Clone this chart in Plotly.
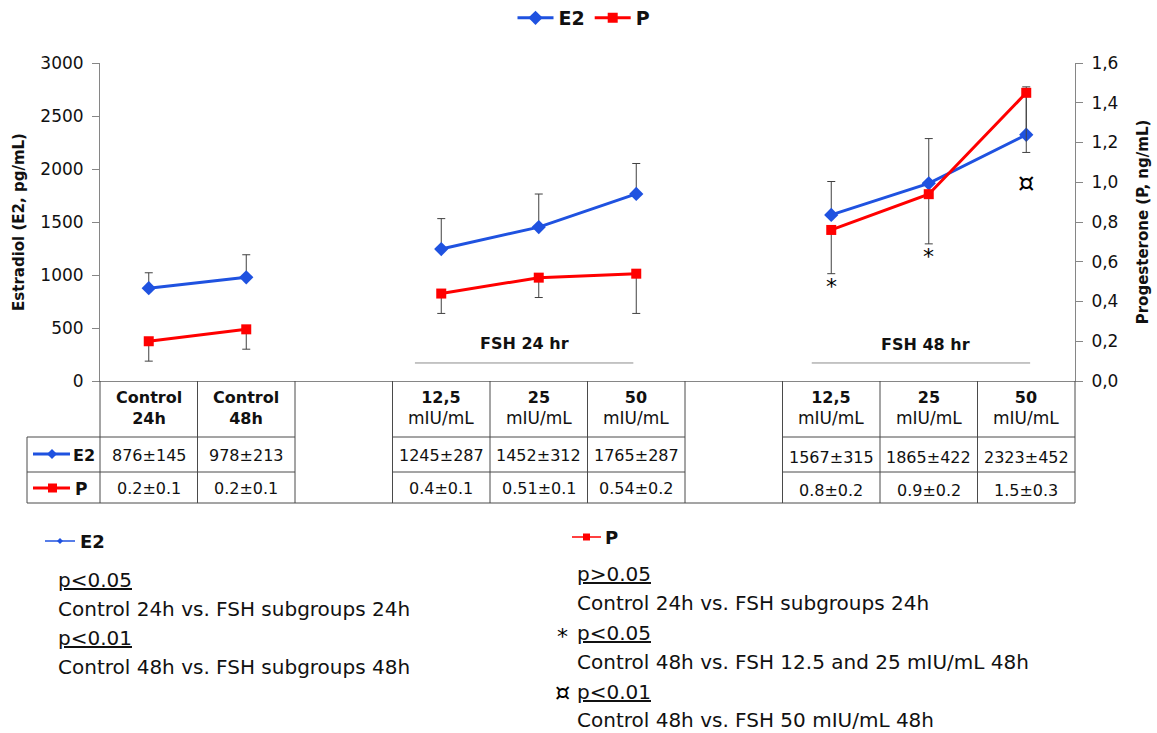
import plotly.graph_objects as go

# ---------------- data ----------------
slots = [0, 1, 3, 4, 5, 7, 8, 9]          # category slot positions (10 slots, 2 blank slots)
e2_values = [876, 978, 1245, 1452, 1765, 1567, 1865, 2323]
e2_err = [145, 213, 287, 312, 287, 315, 422, 452]
p_values = [0.20, 0.26, 0.44, 0.52, 0.54, 0.76, 0.94, 1.45]
p_err = [0.10, 0.10, 0.10, 0.10, 0.20, 0.22, 0.25, 0.30]

header_top = ["Control", "Control", "12,5", "25", "50", "12,5", "25", "50"]
header_bottom = ["24h", "48h", "mIU/mL", "mIU/mL", "mIU/mL", "mIU/mL", "mIU/mL", "mIU/mL"]
e2_table = ["876±145", "978±213", "1245±287", "1452±312", "1765±287", "1567±315", "1865±422", "2323±452"]
p_table = ["0.2±0.1", "0.2±0.1", "0.4±0.1", "0.51±0.1", "0.54±0.2", "0.8±0.2", "0.9±0.2", "1.5±0.3"]

left_ticks = [0, 500, 1000, 1500, 2000, 2500, 3000]
right_ticks = [0, 0.2, 0.4, 0.6, 0.8, 1.0, 1.2, 1.4, 1.6]
right_ticktext = ["0,0", "0,2", "0,4", "0,6", "0,8", "1,0", "1,2", "1,4", "1,6"]

sig_marks = [(7, 887, "*", 22), (8, 1170, "*", 22), (9, 1868, "¤", 26)]

BLUE = "#1F52E0"
RED = "#FF0000"
FONT = "DejaVu Sans"
W, H = 1157, 733
L, R, T, B = 100, 1075, 63, 381


def X(px):
    return (px - L) / (R - L)


def Y(py):
    return (B - py) / (B - T)


def with_gaps(xs, vals):
    """insert None between non-adjacent slots so lines break at blank slots"""
    ox, ov = [], []
    for i, (s, v) in enumerate(zip(xs, vals)):
        if i > 0 and s - xs[i - 1] > 1:
            ox.append(None)
            ov.append(None)
        ox.append(s)
        ov.append(v)
    return ox, ov


gx, e2_y = with_gaps(slots, e2_values)
_, e2_e = with_gaps(slots, e2_err)
_, p_y = with_gaps(slots, p_values)
_, p_e = with_gaps(slots, p_err)
zeros = [0 if v is not None else None for v in e2_y]

fig = go.Figure()
fig.add_trace(go.Scatter(
    x=gx, y=e2_y, name="<b>E2</b>", mode="lines+markers",
    line=dict(color=BLUE, width=3),
    marker=dict(symbol="diamond", size=11, color=BLUE),
    error_y=dict(type="data", symmetric=False, array=e2_e,
                 arrayminus=zeros, color="#404040", thickness=1, width=4),
))
fig.add_trace(go.Scatter(
    x=gx, y=p_y, name="<b>P</b>", mode="lines+markers", yaxis="y2",
    line=dict(color=RED, width=3),
    marker=dict(symbol="square", size=10, color=RED),
    error_y=dict(type="data", symmetric=False, array=zeros,
                 arrayminus=p_e, color="#404040", thickness=1, width=4),
))

shapes = []
ann = []
LC = "#4a4a4a"

# table vertical lines
for k in range(11):
    shapes.append(dict(type="line", xref="paper", yref="paper",
                       x0=k / 10, x1=k / 10, y0=Y(381), y1=Y(503),
                       line=dict(color=LC, width=1)))
# legend column
shapes.append(dict(type="line", xref="paper", yref="paper",
                   x0=X(27), x1=X(27), y0=Y(437), y1=Y(503), line=dict(color=LC, width=1)))
for yy in (437, 472):
    for a, b in ((X(27), 0.2), (0.3, 0.6), (0.7, 1.0)):
        shapes.append(dict(type="line", xref="paper", yref="paper",
                           x0=a, x1=b, y0=Y(yy), y1=Y(yy), line=dict(color=LC, width=1)))
shapes.append(dict(type="line", xref="paper", yref="paper",
                   x0=X(27), x1=1.0, y0=Y(503), y1=Y(503), line=dict(color=LC, width=1)))

# legend glyphs in table
shapes.append(dict(type="line", xref="paper", yref="paper", x0=X(33), x1=X(70),
                   y0=Y(454), y1=Y(454), line=dict(color=BLUE, width=3)))
shapes.append(dict(type="path", xref="paper", yref="paper",
                   path="M {a},{c} L {b},{d} L {e},{c} L {b},{f} Z".format(
                       a=X(47), b=X(52), c=Y(454), d=Y(449), e=X(57), f=Y(459)),
                   fillcolor=BLUE, line=dict(color=BLUE, width=0)))
shapes.append(dict(type="line", xref="paper", yref="paper", x0=X(33), x1=X(70),
                   y0=Y(488), y1=Y(488), line=dict(color=RED, width=3)))
shapes.append(dict(type="rect", xref="paper", yref="paper", x0=X(48), x1=X(57),
                   y0=Y(492.5), y1=Y(483.5), fillcolor=RED, line=dict(color=RED, width=0)))
ann.append(dict(xref="paper", yref="paper", x=X(71), y=Y(455), text="<b>E2</b>",
                showarrow=False, xanchor="left", yanchor="middle", font=dict(size=16)))
ann.append(dict(xref="paper", yref="paper", x=X(73), y=Y(489), text="<b>P</b>",
                showarrow=False, xanchor="left", yanchor="middle", font=dict(size=17)))

# table texts
for i, s in enumerate(slots):
    if i < 2:
        bottom = "<b>%s</b>" % header_bottom[i]
    else:
        bottom = '<span style="font-size:17px">%s</span>' % header_bottom[i]
    ann.append(dict(xref="x", yref="paper", x=s, y=Y(408),
                    text="<b>%s</b><br>%s" % (header_top[i], bottom),
                    showarrow=False, yanchor="middle", font=dict(size=16)))
    yoff = 2 if s >= 7 else 0
    ann.append(dict(xref="x", yref="paper", x=s, y=Y(455 + yoff), text=e2_table[i],
                    showarrow=False, yanchor="middle", font=dict(size=16)))
    ann.append(dict(xref="x", yref="paper", x=s, y=Y(488 + yoff), text=p_table[i],
                    showarrow=False, yanchor="middle", font=dict(size=16)))

# group labels in the plot
for xa, xb, xc, ty, lab in ((2.73, 4.97, 3.85, 358, "FSH 24 hr"), (6.80, 9.04, 7.97, 340, "FSH 48 hr")):
    shapes.append(dict(type="line", xref="x", yref="y", x0=xa, x1=xb, y0=170, y1=170,
                       line=dict(color="#8c8c8c", width=1)))
    ann.append(dict(xref="x", yref="y", x=xc, y=ty, text="<b>%s</b>" % lab,
                    showarrow=False, yanchor="middle", font=dict(size=16)))

for sx, sy, st, fs in sig_marks:
    ann.append(dict(xref="x", yref="y", x=sx, y=sy, text=st, showarrow=False,
                    yanchor="middle", font=dict(size=fs, color="#000000")))

# bottom notes
shapes.append(dict(type="line", xref="paper", yref="paper", x0=X(45), x1=X(75),
                   y0=Y(541), y1=Y(541), line=dict(color=BLUE, width=1.5)))
shapes.append(dict(type="path", xref="paper", yref="paper",
                   path="M {a},{c} L {b},{d} L {e},{c} L {b},{f} Z".format(
                       a=X(57), b=X(60), c=Y(541), d=Y(538), e=X(63), f=Y(544)),
                   fillcolor=BLUE, line=dict(color=BLUE, width=0)))
ann.append(dict(xref="paper", yref="paper", x=X(78), y=Y(541), text="<b>E2</b>",
                showarrow=False, xanchor="left", yanchor="middle", font=dict(size=18)))
shapes.append(dict(type="line", xref="paper", yref="paper", x0=X(572), x1=X(601),
                   y0=Y(537), y1=Y(537), line=dict(color=RED, width=1.5)))
shapes.append(dict(type="rect", xref="paper", yref="paper", x0=X(583), x1=X(590),
                   y0=Y(540.5), y1=Y(533.5), fillcolor=RED, line=dict(color=RED, width=0)))
ann.append(dict(xref="paper", yref="paper", x=X(603), y=Y(537), text="<b>P</b>",
                showarrow=False, xanchor="left", yanchor="middle", font=dict(size=18)))

notes = [
    (56, 580, "<u>p&lt;0.05</u>"),
    (56, 609, "Control 24h vs. FSH subgroups 24h"),
    (56, 638, "<u>p&lt;0.01</u>"),
    (56, 667, "Control 48h vs. FSH subgroups 48h"),
    (575, 574, "<u>p&gt;0.05</u>"),
    (575, 603, "Control 24h vs. FSH subgroups 24h"),
    (575, 633, "<u>p&lt;0.05</u>"),
    (575, 662, "Control 48h vs. FSH 12.5 and 25 mIU/mL 48h"),
    (575, 692, "<u>p&lt;0.01</u>"),
    (575, 720, "Control 48h vs. FSH 50 mIU/mL 48h"),
]
for nx, ny, nt in notes:
    ann.append(dict(xref="paper", yref="paper", x=X(nx), y=Y(ny), text=nt,
                    showarrow=False, xanchor="left", yanchor="middle", font=dict(size=20)))
ann.append(dict(xref="paper", yref="paper", x=X(562), y=Y(636), text="*",
                showarrow=False, xanchor="center", yanchor="middle",
                font=dict(size=22, color="#000000")))
ann.append(dict(xref="paper", yref="paper", x=X(562), y=Y(693), text="¤",
                showarrow=False, xanchor="center", yanchor="middle",
                font=dict(size=24, color="#000000")))

fig.update_layout(
    width=W, height=H,
    margin=dict(l=L, r=W - R, t=T, b=H - B, autoexpand=False),
    paper_bgcolor="white", plot_bgcolor="white",
    font=dict(family=FONT, size=16, color="#111111"),
    showlegend=True,
    legend=dict(orientation="h", xref="container", yref="container",
                x=584 / W, xanchor="center", y=1 - 18 / H, yanchor="middle",
                font=dict(size=19), bgcolor="rgba(0,0,0,0)", itemwidth=36,
                tracegroupgap=0),
    xaxis=dict(range=[-0.5, 9.5], showgrid=False, zeroline=False, showticklabels=False,
               ticks="", showline=True, linecolor="#868686", linewidth=1, automargin=False),
    yaxis=dict(range=[0, 3000], tickvals=left_ticks, showgrid=False, zeroline=False,
               showline=True, linecolor="#868686", linewidth=1, ticks="outside",
               ticklen=7, tickcolor="#868686", tickfont=dict(size=17), automargin=False,
               ticklabelstandoff=5,
               title=dict(text="<b>Estradiol (E2, pg/mL)</b>", font=dict(size=15), standoff=12)),
    yaxis2=dict(range=[0, 1.6], overlaying="y", side="right", tickvals=right_ticks,
                ticktext=right_ticktext, showgrid=False, zeroline=False, showline=True,
                linecolor="#868686", linewidth=1, ticks="outside", ticklen=7,
                tickcolor="#868686", tickfont=dict(size=17), automargin=False,
                ticklabelstandoff=5,
                title=dict(text="<b>Progesterone (P, ng/mL)</b>", font=dict(size=15), standoff=20)),
    shapes=shapes, annotations=ann,
)

fig.write_html("out.html")
